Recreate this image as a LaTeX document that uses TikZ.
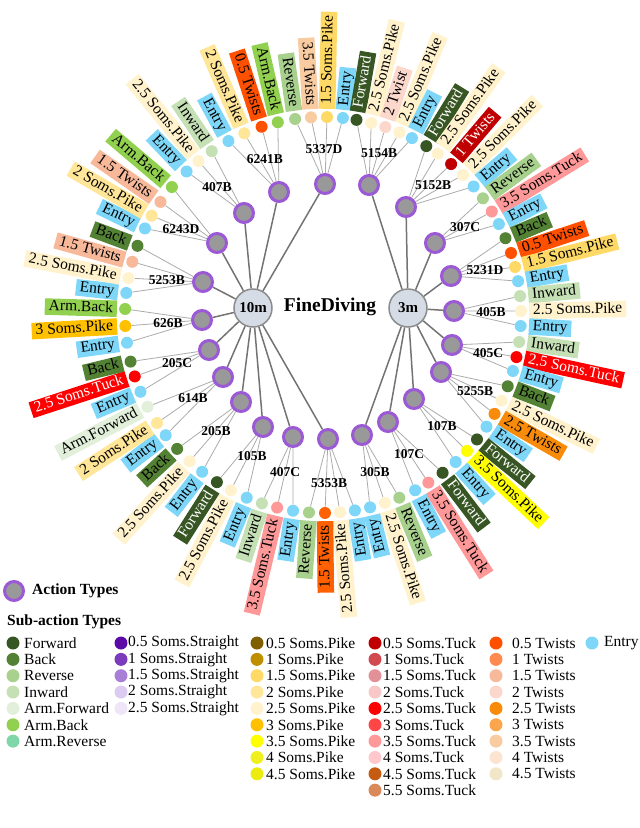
\documentclass[tikz,border=0pt]{standalone}
\usepackage{fontspec}
\setmainfont{Liberation Serif}
\usetikzlibrary{backgrounds}
\definecolor{cFwd}{HTML}{375623}
\definecolor{cBack}{HTML}{548235}
\definecolor{cRev}{HTML}{A9D18E}
\definecolor{cInw}{HTML}{C5E0B4}
\definecolor{cArmF}{HTML}{E2EFDA}
\definecolor{cArmB}{HTML}{92D050}
\definecolor{cArmR}{HTML}{7FD6A8}
\definecolor{s05}{HTML}{5B0AA8}
\definecolor{s1}{HTML}{7A3BBD}
\definecolor{s15}{HTML}{A77FD6}
\definecolor{s2}{HTML}{DCCBF0}
\definecolor{s25}{HTML}{EEE6F7}
\definecolor{p05}{HTML}{7F6000}
\definecolor{p1}{HTML}{BF8F00}
\definecolor{p15}{HTML}{FFD966}
\definecolor{p2}{HTML}{FFE699}
\definecolor{p25}{HTML}{FFF2CC}
\definecolor{p3}{HTML}{FFC000}
\definecolor{p35}{HTML}{FFFF00}
\definecolor{p4}{HTML}{F0F020}
\definecolor{p45}{HTML}{ECEC10}
\definecolor{k05}{HTML}{C00000}
\definecolor{k1}{HTML}{D04A50}
\definecolor{k15}{HTML}{E39198}
\definecolor{k2}{HTML}{F8C8C8}
\definecolor{k25}{HTML}{FF0000}
\definecolor{k3}{HTML}{FF4545}
\definecolor{k35}{HTML}{FF9999}
\definecolor{k4}{HTML}{FFC8CC}
\definecolor{k45}{HTML}{C55A11}
\definecolor{k55}{HTML}{D9895A}
\definecolor{w05}{HTML}{FF5000}
\definecolor{w1}{HTML}{FF8A50}
\definecolor{w1d}{HTML}{C00000}
\definecolor{w15}{HTML}{F8B89A}
\definecolor{w15o}{HTML}{FF6100}
\definecolor{w2}{HTML}{FCD8CC}
\definecolor{w25}{HTML}{F98B0A}
\definecolor{w3}{HTML}{FBA64C}
\definecolor{w35}{HTML}{F8CBA0}
\definecolor{w4}{HTML}{FCE4D0}
\definecolor{w45}{HTML}{F2E6C8}
\definecolor{cEnt}{HTML}{7ED6F8}
\definecolor{cPur}{HTML}{9B59D6}
\definecolor{cHub}{HTML}{D6DCE5}
\begin{document}
\begin{tikzpicture}[x=1pt,y=-1pt,
  hub/.style={circle,draw=black!45,line width=1.5pt,fill=cHub,minimum size=38pt,inner sep=0pt,font=\bfseries\fontsize{15}{15}\selectfont},
  actnode/.style={circle,draw=cPur,line width=3pt,fill=black!40,minimum size=19pt,inner sep=0pt},
  actlab/.style={font=\bfseries\fontsize{13.5}{14}\selectfont},
  leafdot/.style={circle,inner sep=0pt,minimum size=12pt},
  leafbox/.style={inner xsep=4pt,inner ysep=1pt,text height=11pt,text depth=3.5pt,font=\fontsize{15.5}{16}\selectfont},
  leafline/.style={draw=black!33,line width=0.8pt},
  hubline/.style={draw=black!55,line width=1.5pt},
  legdot/.style={circle,inner sep=0pt,minimum size=13pt},
  legtext/.style={anchor=west,inner sep=0pt,font=\fontsize{15.5}{16}\selectfont}]
\useasboundingbox (0,0) rectangle (640,828);
\node[hub] (h10) at (253,308) {10m};
\node[hub] (h3) at (408,308) {3m};
\node[font=\bfseries\fontsize{19.5}{20}\selectfont] (title) at (330,307) {FineDiving};
\foreach \c/\x/\y/\lx/\ly in {5337D/325/184/324/149,5154B/369/185/379/153,5152B/406/207/433/185,307C/435/243/465/227,5231D/451/276/485/270,405B/454/311/491/312,405C/452/345/488/353,5255B/441/372/475/391,107B/414/399/442/426,107C/388/422/409/454,305B/362/435/375/472,5353B/328/439/329/483,407C/293/437/285/472,105B/263/427/252/456,205B/241/402/216/431,614B/223/377/193/398,205C/209/350/177/363,626B/202/320/168/323,5253B/203/282/167/280,6243D/217/243/181/229,407B/244/213/217/187,6241B/279/192/265/159}{
  \node[actnode] (a\c) at (\x,\y) {};
  \node[actlab] (t\c) at (\lx,\ly) {\c};
}
\begin{pgfonlayer}{background}
\foreach \c in {5337D,6241B,407B,6243D,5253B,626B,205C,614B,205B,105B,407C,5353B}{\draw[hubline] (h10) -- (a\c);}
\foreach \c in {5154B,5152B,307C,5231D,405B,405C,5255B,107B,107C,305B}{\draw[hubline] (h3) -- (a\c);}
\end{pgfonlayer}
\foreach \px/\py/\lab/\col/\tc/\pn [count=\i] in {
295/118/Reverse/cRev/black/a5337D, 311/118/3.5 Twists/w35/black/a5337D, 327/117/1.5 Soms.Pike/p15/black/a5337D, 343/117/Entry/cEnt/black/a5337D,
357/117/Forward/cFwd/white/a5154B, 372/120/2.5 Soms.Pike/p25/black/a5154B, 386/125/2 Twist/w2/black/a5154B, 400/131/2.5 Soms.Pike/p25/black/a5154B, 413/136/Entry/cEnt/black/a5154B,
427/145/Forward/cFwd/white/a5152B, 439/152/2.5 Soms.Pike/p25/black/a5152B, 452/163/1 Twists/w1d/white/a5152B, 463/175/2.5 Soms.Pike/p25/black/a5152B, 473/187/Entry/cEnt/black/a5152B,
482/199/Reverse/cRev/black/a307C, 491/212/3.5 Soms.Tuck/k35/black/a307C, 499/224/Entry/cEnt/black/a307C,
506/238/Back/cBack/black/a5231D, 511/253/0.5 Twists/w05/black/a5231D, 515/267/1.5 Soms.Pike/p15/black/a5231D, 519/281/Entry/cEnt/black/a5231D,
521/296/Inward/cInw/black/a405B, 521/311/2.5 Soms.Pike/p25/black/a405B, 520/326/Entry/cEnt/black/a405B,
519/342/Inward/cInw/black/a405C, 516/357/2.5 Soms.Tuck/k25/white/a405C, 513/371/Entry/cEnt/black/a405C,
507/386/Back/cBack/black/a5255B, 500/400/2.5 Soms.Pike/p25/black/a5255B, 493/413/2.5 Twists/w25/black/a5255B, 484/425/Entry/cEnt/black/a5255B,
474/437/Forward/cFwd/white/a107B, 464/448/3.5 Soms.Pike/p35/black/a107B, 453/459/Entry/cEnt/black/a107B,
442/472/Forward/cFwd/white/a107C, 428/482/3.5 Soms.Tuck/k35/black/a107C, 415/490/Entry/cEnt/black/a107C,
399/497/Reverse/cRev/black/a305B, 385/503/2.5 Soms.Pike/p25/black/a305B, 370/507/Entry/cEnt/black/a305B,
355/511/Entry/cEnt/black/a5353B, 340/513/2.5 Soms.Pike/p25/black/a5353B, 325/513/1.5 Twists/w15o/black/a5353B, 309/512/Reverse/cRev/black/a5353B,
293/511/Entry/cEnt/black/a407C, 277/508/3.5 Soms.Tuck/k35/black/a407C, 262/503/Inward/cInw/black/a407C,
247/497/Entry/cEnt/black/a105B, 231/490/2.5 Soms.Pike/p25/black/a105B, 217/482/Forward/cFwd/white/a105B,
202/472/Entry/cEnt/black/a205B, 188/463/2.5 Soms.Pike/p25/black/a205B, 177/449/Back/cBack/black/a205B,
166/435/Entry/cEnt/black/a614B, 157/423/2 Soms.Pike/p2/black/a614B, 147/407/Arm.Forward/cArmF/black/a614B,
140/392/Entry/cEnt/black/a205C, 133/377/2.5 Soms.Tuck/k25/white/a205C, 129/362/Back/cBack/black/a205C,
125/343/Entry/cEnt/black/a626B, 125/326/3 Soms.Pike/p3/black/a626B, 126/309/Arm.Back/cArmB/black/a626B,
127/293/Entry/cEnt/black/a5253B, 128/278/2.5 Soms.Pike/p25/black/a5253B, 133/262/1.5 Twists/w15/black/a5253B, 138/246/Back/cBack/black/a5253B,
146/229/Entry/cEnt/black/a6243D, 154/217/2 Soms.Pike/p2/black/a6243D, 162/203/1.5 Twists/w15/black/a6243D, 173/188/Arm.Back/cArmB/black/a6243D,
188/173/Entry/cEnt/black/a407B, 200/163/2.5 Soms.Pike/p25/black/a407B, 213/153/Inward/cInw/black/a407B,
229/142/Entry/cEnt/black/a6241B, 245/135/2 Soms.Pike/p2/black/a6241B, 262/128/0.5 Twists/w05/black/a6241B, 278/123/Arm.Back/cArmB/black/a6241B}{
  \pgfmathsetmacro\ang{atan2(315-\py,\px-323)}
  \pgfmathsetmacro\angb{\ang+180}
  \pgfmathtruncatemacro\rt{(\ang>-74 && \ang<90) ? 1 : 0}
  \node[leafdot,fill=\col] (l\i) at ({323+198*cos(\ang)},{315-198*sin(\ang)}) {};
  \begin{pgfonlayer}{background}\draw[leafline] (\pn) -- (l\i);\end{pgfonlayer}
  \ifnum\rt=1
    \node[leafbox,fill=\col,text=\tc,anchor=west,rotate=\ang] (b\i) at ({323+206*cos(\ang)},{315-206*sin(\ang)}) {\lab};
  \else
    \node[leafbox,fill=\col,text=\tc,anchor=east,rotate=\angb] (b\i) at ({323+206*cos(\ang)},{315-206*sin(\ang)}) {\lab};
  \fi
}
% legend
\node[actnode] (legA) at (14,591) {};
\node[legtext,font=\bfseries\fontsize{15.5}{16}\selectfont] (legAt) at (32,591) {Action Types};
\node[legtext,font=\bfseries\fontsize{15.5}{16}\selectfont] (legSt) at (7,622) {Sub-action Types};
\foreach \lab/\col [count=\k] in {Forward/cFwd,Back/cBack,Reverse/cRev,Inward/cInw,Arm.Forward/cArmF,Arm.Back/cArmB,Arm.Reverse/cArmR}{
  \node[legdot,fill=\col] (ga\k) at (13,{643+16.35*(\k-1)}) {};
  \node[legtext] (gat\k) at (24,{643+16.35*(\k-1)}) {\lab};}
\foreach \lab/\col [count=\k] in {0.5 Soms.Straight/s05,1 Soms.Straight/s1,1.5 Soms.Straight/s15,2 Soms.Straight/s2,2.5 Soms.Straight/s25}{
  \node[legdot,fill=\col] (gb\k) at (121,{643+16.35*(\k-1)}) {};
  \node[legtext] (gbt\k) at (128,{643+16.35*(\k-1)}) {\lab};}
\foreach \lab/\col [count=\k] in {0.5 Soms.Pike/p05,1 Soms.Pike/p1,1.5 Soms.Pike/p15,2 Soms.Pike/p2,2.5 Soms.Pike/p25,3 Soms.Pike/p3,3.5 Soms.Pike/p35,4 Soms.Pike/p4,4.5 Soms.Pike/p45}{
  \node[legdot,fill=\col] (gc\k) at (257,{643+16.35*(\k-1)}) {};
  \node[legtext] (gct\k) at (266,{643+16.35*(\k-1)}) {\lab};}
\foreach \lab/\col [count=\k] in {0.5 Soms.Tuck/k05,1 Soms.Tuck/k1,1.5 Soms.Tuck/k15,2 Soms.Tuck/k2,2.5 Soms.Tuck/k25,3 Soms.Tuck/k3,3.5 Soms.Tuck/k35,4 Soms.Tuck/k4,4.5 Soms.Tuck/k45,5.5 Soms.Tuck/k55}{
  \node[legdot,fill=\col] (gd\k) at (375,{643+16.35*(\k-1)}) {};
  \node[legtext] (gdt\k) at (383,{643+16.35*(\k-1)}) {\lab};}
\foreach \lab/\col [count=\k] in {0.5 Twists/w05,1 Twists/w1,1.5 Twists/w15,2 Twists/w2,2.5 Twists/w25,3 Twists/w3,3.5 Twists/w35,4 Twists/w4,4.5 Twists/w45}{
  \node[legdot,fill=\col] (ge\k) at (496,{643+16.35*(\k-1)}) {};
  \node[legtext] (get\k) at (512,{643+16.35*(\k-1)}) {\lab};}
\node[legdot,fill=cEnt] (gf1) at (592,643) {};
\node[legtext] (gft1) at (604,643) {Entry};
\end{tikzpicture}
\end{document}
